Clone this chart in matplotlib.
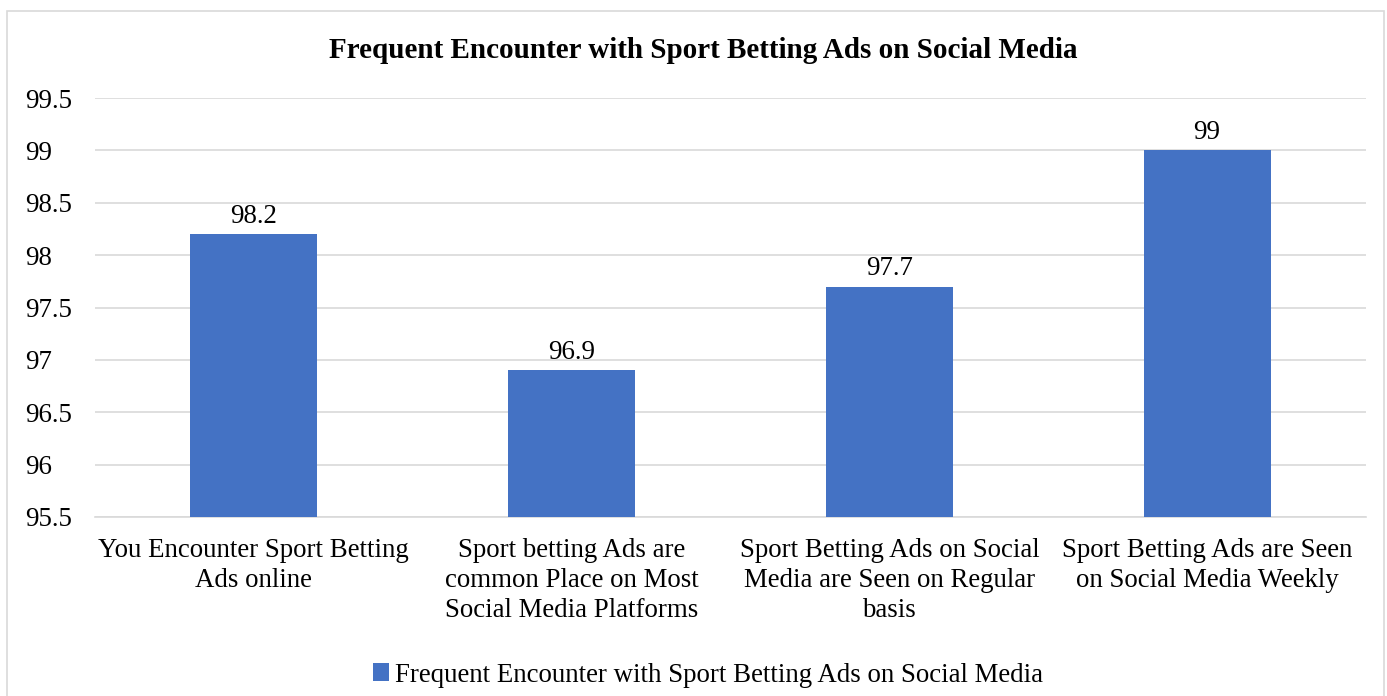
import matplotlib
matplotlib.use("Agg")
import matplotlib.pyplot as plt
from matplotlib.patches import Rectangle

categories = [
    "You Encounter Sport Betting\nAds online",
    "Sport betting Ads are\ncommon Place on Most\nSocial Media Platforms",
    "Sport Betting Ads on Social\nMedia are Seen on Regular\nbasis",
    "Sport Betting Ads are Seen\non Social Media Weekly",
]
values = [98.2, 96.9, 97.7, 99.0]
value_labels = ["98.2", "96.9", "97.7", "99"]
yticks = [95.5, 96, 96.5, 97, 97.5, 98, 98.5, 99, 99.5]
ytick_labels = ["95.5", "96", "96.5", "97", "97.5", "98", "98.5", "99", "99.5"]
series_name = "Frequent Encounter with Sport Betting Ads on Social Media"
title = "Frequent Encounter with Sport Betting Ads on Social Media"

plt.rcParams['font.family'] = ['Liberation Serif', 'DejaVu Serif']

W, H = 1387, 696
FS = 19.4
fig = plt.figure(figsize=(W/100, H/100), dpi=100)
fig.patches.append(Rectangle((7/W, -0.05), (1384-7)/W, 1.05 - 11/H, transform=fig.transFigure,
                             fill=False, edgecolor='#D9D9D9', linewidth=1.2))

ax = fig.add_axes([95/W, 1-517/H, (1366-95)/W, (517-98)/H])
x = list(range(len(categories)))
bars = ax.bar(x, values, width=0.4, color='#4472C4', zorder=3, bottom=0)
ax.set_ylim(95.5, 99.5)
ax.set_xlim(-0.5, len(categories)-0.5)
ax.set_yticks(yticks)
ax.set_yticklabels(ytick_labels, fontsize=FS)
ax.set_xticks(x)
ax.set_xticklabels(categories, fontsize=FS, linespacing=1.28)
ax.tick_params(axis='both', length=0)
ax.tick_params(axis='y', pad=0)
ax.tick_params(axis='x', pad=15)
ax.grid(axis='y', color='#D9D9D9', linewidth=1.2, zorder=0)
for s in ['top', 'right', 'left']:
    ax.spines[s].set_visible(False)
ax.spines['bottom'].set_color('#D9D9D9')
ax.spines['bottom'].set_linewidth(1.2)
for label in ax.get_yticklabels():
    label.set_horizontalalignment('left')
    label.set_x(-(95-25)/(1366-95))
for xi, v, t in zip(x, values, value_labels):
    ax.annotate(t, (xi, v), xytext=(0, 4), textcoords='offset points',
                ha='center', va='bottom', fontsize=FS)

fig.text(703/W, 1-51/H, title, ha='center', va='center',
         fontsize=21, fontweight='bold')

leg = fig.legend([bars[0]], [series_name], loc='center', bbox_to_anchor=(708/W, 1-675/H),
                 frameon=False, fontsize=FS, handlelength=0.6, handleheight=0.6,
                 handletextpad=0.25)

fig.savefig("out.png", dpi=100)
